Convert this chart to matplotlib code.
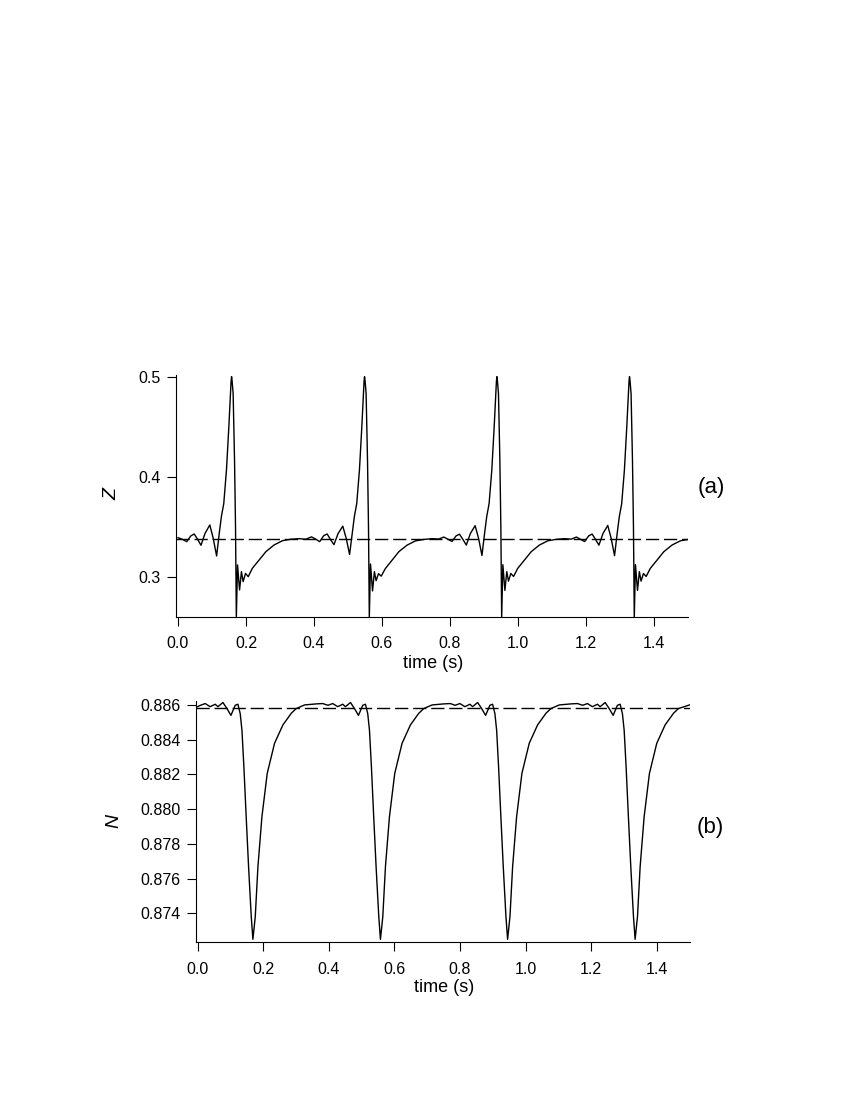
import matplotlib.pyplot as plt

# panel (a): Z(t), one block per spike
time_z = [
    0.0000, 0.0136, 0.0256, 0.0376, 0.0476, 0.0576, 0.0676, 0.0796, 0.0936, 0.1036,
    0.1136, 0.1216, 0.1276, 0.1346, 0.1426, 0.1496, 0.1546, 0.1561, 0.1576, 0.1591,
    0.1622, 0.1663, 0.1692, 0.1716, 0.1751, 0.1811, 0.1866, 0.1916, 0.1986, 0.2066,
    0.2186, 0.2386, 0.2586, 0.2826, 0.3076, 0.3316, 0.3566, 0.3756,
    0.3927, 0.4047, 0.4167, 0.4287, 0.4387, 0.4487, 0.4587, 0.4707, 0.4847, 0.4947,
    0.5047, 0.5127, 0.5187, 0.5257, 0.5337, 0.5407, 0.5457, 0.5472, 0.5487, 0.5502,
    0.5533, 0.5574, 0.5603, 0.5627, 0.5662, 0.5722, 0.5777, 0.5827, 0.5897, 0.5977,
    0.6097, 0.6297, 0.6497, 0.6737, 0.6987, 0.7227, 0.7477, 0.7667,
    0.7820, 0.7940, 0.8060, 0.8180, 0.8280, 0.8380, 0.8480, 0.8600, 0.8740, 0.8840,
    0.8940, 0.9020, 0.9080, 0.9150, 0.9230, 0.9300, 0.9350, 0.9365, 0.9380, 0.9395,
    0.9426, 0.9467, 0.9496, 0.9520, 0.9555, 0.9615, 0.9670, 0.9720, 0.9790, 0.9870,
    0.9990, 1.0190, 1.0390, 1.0630, 1.0880, 1.1120, 1.1370, 1.1560,
    1.1720, 1.1840, 1.1960, 1.2080, 1.2180, 1.2280, 1.2380, 1.2500, 1.2640, 1.2740,
    1.2840, 1.2920, 1.2980, 1.3050, 1.3130, 1.3200, 1.3250, 1.3265, 1.3280, 1.3295,
    1.3326, 1.3367, 1.3396, 1.3420, 1.3455, 1.3515, 1.3570, 1.3620, 1.3690, 1.3770,
    1.3890, 1.4090, 1.4290, 1.4530, 1.4780, 1.5000,
]
z_vals = [
    0.3390, 0.3372, 0.3350, 0.3407, 0.3427, 0.3374, 0.3314, 0.3433, 0.3517, 0.3384,
    0.3207, 0.3440, 0.3600, 0.3730, 0.4067, 0.4500, 0.4830, 0.4950, 0.5000, 0.4960,
    0.4830, 0.4167, 0.3500, 0.2590, 0.3117, 0.2867, 0.3050, 0.2950, 0.3033, 0.3000,
    0.3083, 0.3167, 0.3250, 0.3317, 0.3360, 0.3374, 0.3380, 0.3374,
    0.3398, 0.3376, 0.3350, 0.3410, 0.3427, 0.3370, 0.3320, 0.3430, 0.3505, 0.3384,
    0.3222, 0.3440, 0.3600, 0.3730, 0.4067, 0.4500, 0.4830, 0.4950, 0.5000, 0.4960,
    0.4830, 0.4167, 0.3500, 0.2590, 0.3127, 0.2857, 0.3050, 0.2960, 0.3030, 0.3005,
    0.3080, 0.3165, 0.3250, 0.3315, 0.3358, 0.3372, 0.3380, 0.3376,
    0.3396, 0.3374, 0.3352, 0.3408, 0.3425, 0.3372, 0.3316, 0.3432, 0.3510, 0.3384,
    0.3212, 0.3440, 0.3600, 0.3730, 0.4067, 0.4500, 0.4830, 0.4950, 0.5000, 0.4960,
    0.4830, 0.4167, 0.3500, 0.2590, 0.3120, 0.2862, 0.3050, 0.2955, 0.3032, 0.3002,
    0.3082, 0.3166, 0.3250, 0.3316, 0.3359, 0.3373, 0.3380, 0.3375,
    0.3396, 0.3373, 0.3351, 0.3408, 0.3426, 0.3373, 0.3315, 0.3432, 0.3512, 0.3384,
    0.3210, 0.3440, 0.3600, 0.3730, 0.4067, 0.4500, 0.4830, 0.4950, 0.5000, 0.4960,
    0.4830, 0.4167, 0.3500, 0.2590, 0.3120, 0.2862, 0.3050, 0.2955, 0.3032, 0.3002,
    0.3082, 0.3166, 0.3250, 0.3316, 0.3359, 0.3372,
]
z_fixed = 0.338

# panel (b): N(t), one block per dip
time_n = [
    0.0000, 0.0085, 0.0231, 0.0381, 0.0537, 0.0618, 0.0771, 0.0891, 0.1015, 0.1145,
    0.1228, 0.1298, 0.1351, 0.1410, 0.1480, 0.1553, 0.1635, 0.1685, 0.1757, 0.1838,
    0.1960, 0.2122, 0.2345, 0.2600, 0.2855, 0.3005, 0.3260, 0.3615, 0.3815,
    0.3974, 0.4120, 0.4270, 0.4426, 0.4507, 0.4660, 0.4780, 0.4904, 0.5034, 0.5117,
    0.5187, 0.5240, 0.5299, 0.5369, 0.5442, 0.5524, 0.5574, 0.5646, 0.5727, 0.5849,
    0.6011, 0.6234, 0.6489, 0.6744, 0.6894, 0.7149, 0.7504, 0.7704,
    0.7852, 0.7998, 0.8148, 0.8304, 0.8385, 0.8538, 0.8658, 0.8782, 0.8912, 0.8995,
    0.9065, 0.9118, 0.9177, 0.9247, 0.9320, 0.9402, 0.9452, 0.9524, 0.9605, 0.9727,
    0.9889, 1.0112, 1.0367, 1.0622, 1.0772, 1.1027, 1.1382, 1.1582,
    1.1741, 1.1887, 1.2037, 1.2193, 1.2274, 1.2427, 1.2547, 1.2671, 1.2801, 1.2884,
    1.2954, 1.3007, 1.3066, 1.3136, 1.3209, 1.3291, 1.3341, 1.3413, 1.3494, 1.3616,
    1.3778, 1.4001, 1.4256, 1.4511, 1.4661, 1.5000,
]
n_vals = [
    0.88590, 0.88598, 0.88608, 0.88590, 0.88604, 0.88590, 0.88614, 0.88580, 0.88540, 0.88598,
    0.88604, 0.88550, 0.88454, 0.88244, 0.87956, 0.87668, 0.87380, 0.87250, 0.87380, 0.87668,
    0.87956, 0.88206, 0.88379, 0.88485, 0.88552, 0.88579, 0.88600, 0.88606, 0.88608,
    0.88598, 0.88608, 0.88590, 0.88604, 0.88590, 0.88614, 0.88580, 0.88540, 0.88598, 0.88604,
    0.88550, 0.88454, 0.88244, 0.87956, 0.87668, 0.87380, 0.87250, 0.87380, 0.87668, 0.87956,
    0.88206, 0.88379, 0.88485, 0.88552, 0.88579, 0.88600, 0.88606, 0.88608,
    0.88598, 0.88608, 0.88590, 0.88604, 0.88590, 0.88614, 0.88580, 0.88540, 0.88598, 0.88604,
    0.88550, 0.88454, 0.88244, 0.87956, 0.87668, 0.87380, 0.87250, 0.87380, 0.87668, 0.87956,
    0.88206, 0.88379, 0.88485, 0.88552, 0.88579, 0.88600, 0.88606, 0.88608,
    0.88598, 0.88608, 0.88590, 0.88604, 0.88590, 0.88614, 0.88580, 0.88540, 0.88598, 0.88604,
    0.88550, 0.88454, 0.88244, 0.87956, 0.87668, 0.87380, 0.87250, 0.87380, 0.87668, 0.87956,
    0.88206, 0.88379, 0.88485, 0.88552, 0.88579, 0.88600,
]
n_fixed = 0.8858

time_ticks = [0.0, 0.2, 0.4, 0.6, 0.8, 1.0, 1.2, 1.4]
z_ticks = [0.3, 0.4, 0.5]
n_ticks = [0.874, 0.876, 0.878, 0.880, 0.882, 0.884, 0.886]

plt.rcParams['font.family'] = ['Liberation Sans', 'DejaVu Sans']


def style_axes(ax):
    ax.spines['top'].set_visible(False)
    ax.spines['right'].set_visible(False)
    ax.spines['left'].set_linewidth(0.8)
    ax.spines['bottom'].set_linewidth(0.8)
    ax.tick_params(axis='x', direction='out', length=6.5, width=0.8, pad=7.5, labelsize=11.5)
    ax.tick_params(axis='y', direction='out', length=6.5, width=0.8, pad=4.5, labelsize=11.5)
    ax.set_xticks(time_ticks)
    ax.set_xticklabels([f"{t:.1f}" for t in time_ticks])
    ax.set_xlim(-0.005, 1.5)


fig = plt.figure(figsize=(8.5, 11), dpi=100)

ax1 = fig.add_axes([0.2074, 0.4394, 0.602, 0.22])
ax1.plot(time_z, z_vals, color='black', lw=1.0)
ax1.axhline(z_fixed, color='black', lw=1.0, dashes=(9.5, 3.5))
style_axes(ax1)
ax1.set_ylim(0.26, 0.502)
ax1.set_yticks(z_ticks)
ax1.set_yticklabels([f"{v:.1f}" for v in z_ticks])

ax2 = fig.add_axes([0.2306, 0.1434, 0.5806, 0.2189])
ax2.plot(time_n, n_vals, color='black', lw=1.0)
ax2.axhline(n_fixed, color='black', lw=1.0, dashes=(9.5, 3.5))
style_axes(ax2)
ax2.set_ylim(0.87233, 0.8862)
ax2.set_yticks(n_ticks)
ax2.set_yticklabels([f"{v:.3f}" for v in n_ticks])

# axis names and panel tags, placed in figure pixels / size
W, H = 850, 1100
fig.text(433 / W, 1 - 664 / H, "time (s)", ha='center', va='center', fontsize=13)
fig.text(444 / W, 1 - 988 / H, "time (s)", ha='center', va='center', fontsize=13)
fig.text(112 / W, 1 - 494 / H, "Z", ha='center', va='center', fontsize=14,
         style='italic', rotation=90)
fig.text(114 / W, 1 - 821 / H, "N", ha='center', va='center', fontsize=14,
         style='italic', rotation=90)
fig.text(711 / W, 1 - 487 / H, "(a)", ha='center', va='center', fontsize=16)
fig.text(710 / W, 1 - 828 / H, "(b)", ha='center', va='center', fontsize=16)

fig.savefig("out.png", dpi=100)
